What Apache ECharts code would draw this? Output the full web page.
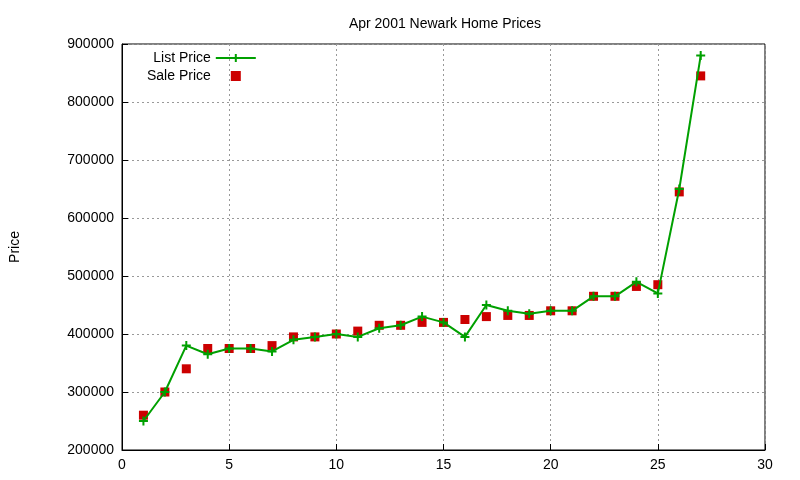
<!DOCTYPE html>
<html>
<head>
<meta charset="utf-8">
<script src="https://cdn.jsdelivr.net/npm/echarts@6/dist/echarts.min.js"></script>
<style>html,body{margin:0;background:#fff}#c{width:800px;height:480px}</style>
</head>
<body>
<div id="c"></div>
<script>
var homes = [1,2,3,4,5,6,7,8,9,10,11,12,13,14,15,16,17,18,19,20,21,22,23,24,25,26,27];
var listPrice = [250000,300000,380000,365000,375000,375000,370000,390000,395000,400000,395000,410000,415000,430000,420000,395000,450000,440000,435000,440000,440000,465000,465000,490000,470000,650000,880000];
var salePrice = [260000,300000,340000,375000,375000,375000,380000,395000,395000,400000,405000,415000,415000,420000,420000,425000,430000,432000,432000,440000,440000,465000,465000,482000,485000,645000,845000];

function pairs(ys) {
  return ys.map(function (y, i) { return [homes[i], y]; });
}

var plus = 'path://M0,5L10,5M5,0L5,10';
var font = 'Liberation Sans';
var chart = echarts.init(document.getElementById('c'));
chart.setOption({
  animation: false,
  textStyle: { fontFamily: font },
  title: {
    text: 'Apr 2001 Newark Home Prices', left: 440, top: 12, textAlign: 'center',
    textStyle: { fontSize: 14, fontWeight: 'normal', color: '#000', fontFamily: font }
  },
  legend: {
    orient: 'vertical', left: 142, top: 46, align: 'right', itemGap: 4,
    itemWidth: 40, itemHeight: 10,
    textStyle: { fontSize: 14, color: '#000', fontFamily: font },
    data: [
      { name: 'List Price' },
      { name: 'Sale Price', icon: 'path://M15,0L25,0L25,10L15,10Z' }
    ]
  },
  grid: { left: 120, right: 35, top: 44, bottom: 30, show: true, borderColor: '#000', borderWidth: 1 },
  xAxis: {
    type: 'value', min: 0, max: 30, interval: 5,
    axisLine: { onZero: false, lineStyle: { color: '#000' } },
    axisTick: { inside: true, length: 6, lineStyle: { color: '#000' } },
    axisLabel: { color: '#000', fontSize: 14, margin: 8 },
    splitLine: { lineStyle: { color: '#999', type: [2, 3] } }
  },
  yAxis: {
    type: 'value', min: 200000, max: 900000, interval: 100000,
    name: 'Price', nameLocation: 'middle', nameGap: 100, nameRotate: 90,
    nameTextStyle: { color: '#000', fontSize: 14 },
    axisLine: { show: true, lineStyle: { color: '#000' } },
    axisTick: { inside: true, length: 6, lineStyle: { color: '#000' } },
    axisLabel: { color: '#000', fontSize: 14, margin: 8, formatter: function (v) { return String(v); } },
    splitLine: { lineStyle: { color: '#999', type: [2, 3] } }
  },
  series: [
    {
      name: 'List Price', type: 'line', data: pairs(listPrice),
      symbol: plus, symbolSize: 9, showAllSymbol: true,
      itemStyle: { color: '#00a000', borderColor: '#00a000', borderWidth: 2 },
      lineStyle: { color: '#00a000', width: 2 }
    },
    {
      name: 'Sale Price', type: 'scatter', data: pairs(salePrice),
      symbol: 'rect', symbolSize: 9,
      itemStyle: { color: '#cc0000', opacity: 1 }
    }
  ]
});
</script>
</body>
</html>
